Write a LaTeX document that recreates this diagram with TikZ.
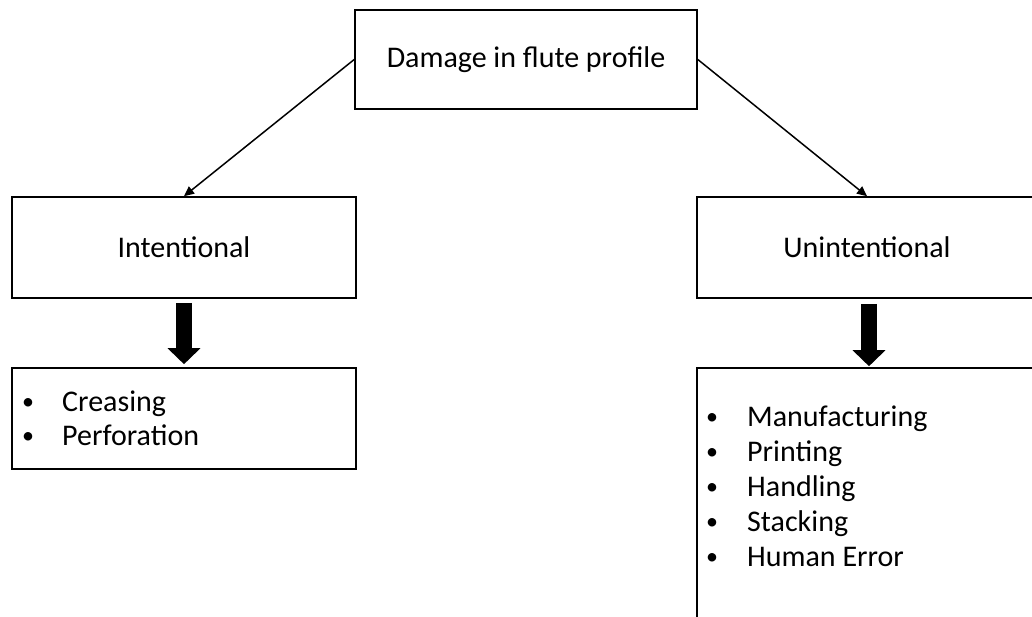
\documentclass[tikz,border=0pt]{standalone}
\usepackage{fontspec}
\setmainfont{Carlito}
\usetikzlibrary{arrows.meta}
\newcommand{\bul}{\raisebox{1.5pt}{\fontsize{24}{24}\selectfont•}}
\begin{document}
\begin{tikzpicture}[x=1pt,y=-1pt,
  box/.style={draw=black, line width=1.6pt, rectangle, inner sep=0pt, font=\fontsize{30}{36}\selectfont},
  conn/.style={draw=black, line width=1.5pt, -{Triangle[length=10pt,width=9pt]}},
  blockarrow/.style={draw=black, line width=16pt, -{Triangle[length=16pt,width=32pt]}},
  item/.style={anchor=base west, inner sep=0pt, font=\fontsize{30}{36}\selectfont}]
\useasboundingbox (0,0) rectangle (1032,617);
\clip (0,0) rectangle (1032,617);
% boxes
\node[box, minimum width=342pt, minimum height=99pt] (top) at (526,59.5) {Damage in flute profile};
\node[box, minimum width=344pt, minimum height=101pt] (int) at (184,247.5) {Intentional};
\node[box, minimum width=340pt, minimum height=101pt] (un) at (867,247.5) {Unintentional};
\node[box, minimum width=344pt, minimum height=101pt] (ilist) at (184,418.5) {};
\node[box, minimum width=340pt, minimum height=264pt] (ulist) at (867,500) {};
% connectors
\draw[conn] (top.west) -- (int.north);
\draw[conn] (top.east) -- (un.north);
\draw[blockarrow, shorten <=4pt, shorten >=3pt] (int.south) -- (ilist.north);
\draw[blockarrow, shorten <=5pt, shorten >=1pt] ([xshift=2pt]un.south) -- ([xshift=2pt]ulist.north);
% list items
\node[item] (i1) at (22,411) {\makebox[40pt][l]{\bul}Creasing};
\node[item] (i2) at (22,445) {\makebox[40pt][l]{\bul}Perforation};
\node[item] (u1) at (706,426) {\makebox[41pt][l]{\bul}Manufacturing};
\node[item] (u2) at (706,461) {\makebox[41pt][l]{\bul}Printing};
\node[item] (u3) at (706,496) {\makebox[41pt][l]{\bul}Handling};
\node[item] (u4) at (706,531) {\makebox[41pt][l]{\bul}Stacking};
\node[item] (u5) at (706,566) {\makebox[41pt][l]{\bul}Human Error};
\end{tikzpicture}
\end{document}
